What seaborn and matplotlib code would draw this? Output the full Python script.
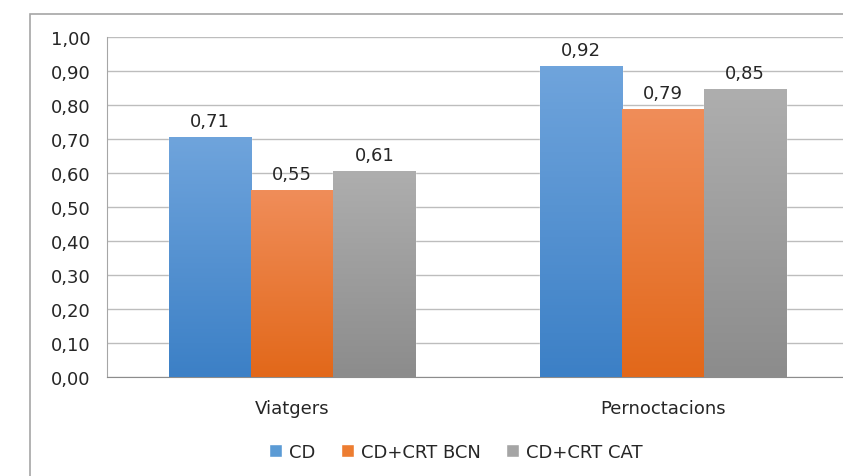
import numpy as np
import pandas as pd
import matplotlib
matplotlib.use('Agg')
import matplotlib.pyplot as plt
import seaborn as sns
from matplotlib.colors import LinearSegmentedColormap
from matplotlib.patches import Rectangle

# Dades
categories = ["Viatgers", "Pernoctacions"]
series = ["CD", "CD+CRT BCN", "CD+CRT CAT"]
cd = [0.706, 0.916]
cd_bcn = [0.55, 0.788]
cd_cat = [0.606, 0.846]
yticks = [0.0, 0.1, 0.2, 0.3, 0.4, 0.5, 0.6, 0.7, 0.8, 0.9, 1.0]

df = pd.DataFrame({
    "categoria": categories * 3,
    "serie": [s for s in series for _ in categories],
    "valor": cd + cd_bcn + cd_cat,
})

colors = ["#5B9BD5", "#ED7D31", "#A5A5A5"]
# gradient (dalt, baix) per cada serie
grads = [("#6FA4DC", "#3C80C6"), ("#F08D59", "#E2681A"), ("#AEAEAE", "#8C8C8C")]

sns.set_style("white")
plt.rcParams['font.family'] = ['DejaVu Sans']
fs = 13

fig = plt.figure(figsize=(8.43, 4.77), dpi=100)
W, H = 843, 477
ax = fig.add_axes([107 / W, (H - 378) / H, (848 - 107) / W, 340 / H])

sns.barplot(data=df, x="categoria", y="valor", hue="serie", palette=colors,
            width=0.665, saturation=1, ax=ax, legend=True, errorbar=None)

# degradat a les barres
for k, cont in enumerate(ax.containers):
    cmap = LinearSegmentedColormap.from_list("g%d" % k, [grads[k][1], grads[k][0]])
    for p in cont.patches:
        x0, y0 = p.get_x(), p.get_y()
        w, h = p.get_width(), p.get_height()
        grad = np.linspace(0, 1, 100).reshape(-1, 1)
        im = ax.imshow(grad, extent=[x0, x0 + w, y0, y0 + h], origin="lower",
                       aspect="auto", cmap=cmap, zorder=3)
        im.set_clip_path(p)
        p.set_zorder(3)
    vals = [p.get_height() for p in cont.patches]
    ax.bar_label(cont, labels=[("%.2f" % v).replace(".", ",") for v in vals],
                 padding=5, fontsize=fs, color="#262626", zorder=5)

ax.set_xlim(-0.5, 1.5)
ax.set_ylim(0, 1.0)
ax.set_yticks(yticks)
ax.set_yticklabels([("%.2f" % v).replace(".", ",") for v in yticks])
ax.set_xticks([0, 1])
ax.set_xticklabels(categories)
ax.set_xticks([-0.5, 0.5, 1.5], minor=True)
ax.tick_params(axis="x", which="major", length=0, pad=16, labelsize=fs, labelcolor="#262626")
ax.tick_params(axis="x", which="minor", length=7, width=1, color="#A6A6A6", direction="out")
ax.tick_params(axis="y", length=7, width=1, color="#A6A6A6", direction="out", pad=5,
               labelsize=fs, labelcolor="#262626")
ax.set_xlabel("")
ax.set_ylabel("")

ax.yaxis.grid(True, color="#BDBDBD", linewidth=1)
ax.set_axisbelow(True)
for s in ["top", "right"]:
    ax.spines[s].set_visible(False)
ax.spines["left"].set_color("#A6A6A6")
ax.spines["bottom"].set_color("#8C8C8C")

# llegenda a baix
handles, labels = ax.get_legend_handles_labels()
ax.get_legend().remove()
fig.legend(handles, labels, loc="center", bbox_to_anchor=(456 / W, 1 - 453 / H),
           ncol=3, frameon=False, fontsize=fs, handlelength=0.7, handleheight=0.7,
           handletextpad=0.4, columnspacing=1.4, labelcolor="#262626")

# vora del gràfic
fig.patches.append(Rectangle((30 / W, -0.5), 2.0, 1.5 - 15 / H, transform=fig.transFigure,
                             fill=False, edgecolor="#A6A6A6", linewidth=1.2, zorder=0))

fig.savefig("out.png", dpi=100)
plt.close()
